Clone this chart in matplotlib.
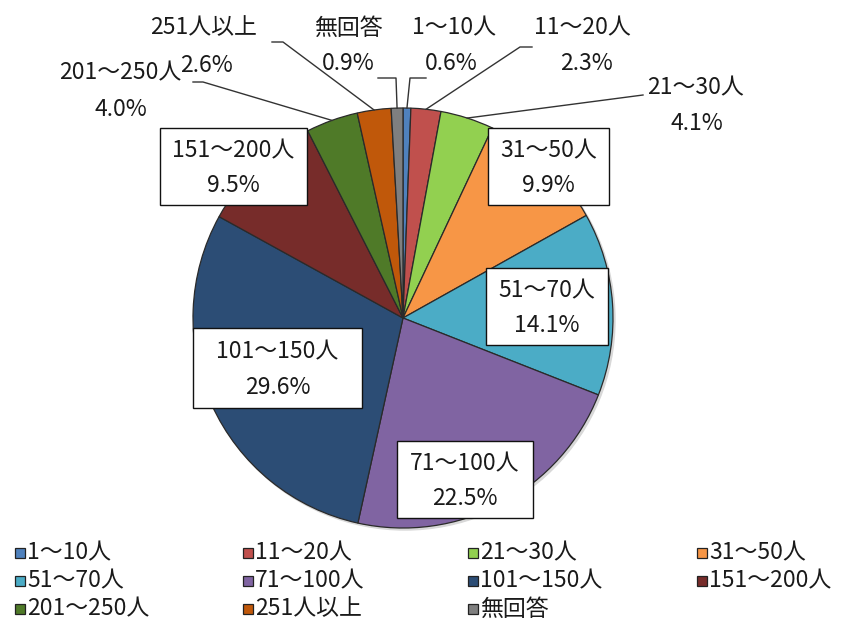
import matplotlib
matplotlib.use('Agg')
import matplotlib.pyplot as plt
from matplotlib.patches import Rectangle, Circle
import numpy as np

plt.rcParams['font.family'] = ['Noto Sans CJK JP', 'DejaVu Sans']

categories = ['1～10人', '11～20人', '21～30人', '31～50人', '51～70人', '71～100人',
              '101～150人', '151～200人', '201～250人', '251人以上', '無回答']
values = [0.6, 2.3, 4.1, 9.9, 14.1, 22.5, 29.6, 9.5, 4.0, 2.6, 0.9]
pct_labels = ['0.6%', '2.3%', '4.1%', '9.9%', '14.1%', '22.5%', '29.6%', '9.5%', '4.0%', '2.6%', '0.9%']
colors = ['#4F81BD', '#C0504D', '#92D050', '#F79646', '#4BACC6', '#8064A2',
          '#2C4D75', '#772C2A', '#4F7A28', '#C0580A', '#7F7F7F']

W, H = 848, 629
CX, CY, R = 403, 318, 210
FS = 16.5
TC = '#1a1a1a'

fig = plt.figure(figsize=(W / 100, H / 100), dpi=100)
ax = fig.add_axes([0, 0, 1, 1])

# subtle shadow
ax.add_patch(Circle((CX + 2, CY + 2), R, color='#d8d8d8', zorder=0))
ax.pie(values, colors=colors, startangle=-90, counterclock=True, center=(CX, CY), radius=R,
       wedgeprops=dict(edgecolor='#2a2a2a', linewidth=0.9), frame=True)
ax.set_xlim(0, W)
ax.set_ylim(H, 0)
ax.set_aspect('equal')
ax.axis('off')

total = sum(values)
cum = np.cumsum([0] + values)
mids = [(cum[i] + values[i] / 2) / total * 2 * np.pi for i in range(len(values))]

def rim(i):
    a = mids[i]
    return CX + R * np.sin(a), CY - R * np.cos(a)

# outside labels: (index, name pos, pct pos, leader points)
outside = [
    (0, (454, 28), (451, 63), [(410, 78), (426, 78)]),
    (1, (582, 28), (586, 63), [(520, 47), (532, 47)]),
    (2, (695, 88), (697, 123), [(643, 95)]),
    (8, (120, 73), (121, 110), [(203, 82), (193, 82)]),
    (9, (204, 28), (206, 65), [(283, 42), (272, 42)]),
    (10, (348, 28), (348, 63), [(396, 78), (378, 78)]),
]
for i, npos, ppos, pts in outside:
    x0, y0 = rim(i)
    xs = [x0] + [p[0] for p in pts]
    ys = [y0] + [p[1] for p in pts]
    ax.plot(xs, ys, color='#333333', lw=1.0, zorder=3)
    ax.text(*npos, categories[i], fontsize=FS, color=TC, ha='center', va='center', zorder=4)
    ax.text(*ppos, pct_labels[i], fontsize=FS, color=TC, ha='center', va='center', zorder=4)

# boxed labels: (index, x0, y0, x1, y1)
boxes = [
    (3, 488, 128, 609, 205),
    (4, 486, 268, 608, 345),
    (5, 397, 441, 533, 518),
    (6, 193, 328, 362, 408),
    (7, 160, 128, 307, 205),
]
for i, x0, y0, x1, y1 in boxes:
    ax.add_patch(Rectangle((x0, y0), x1 - x0, y1 - y0, facecolor='white', edgecolor='#111111',
                           lw=1.0, zorder=5))
    xc = (x0 + x1) / 2
    yc = (y0 + y1) / 2
    ax.text(xc, yc - 16, categories[i], fontsize=FS, color=TC, ha='center', va='center', zorder=6)
    ax.text(xc, yc + 19, pct_labels[i], fontsize=FS, color=TC, ha='center', va='center', zorder=6)

# legend
col_x = [15, 243, 468, 697]
row_y = [553, 581, 609]
for i, name in enumerate(categories):
    r, c = divmod(i, 4)
    x, y = col_x[c], row_y[r]
    ax.add_patch(Rectangle((x, y - 5), 10, 10, facecolor=colors[i], edgecolor='#222222', lw=0.9, zorder=5))
    ax.text(x + 12, y, name, fontsize=FS, color=TC, ha='left', va='center', zorder=6)

fig.savefig('out.png', dpi=100, facecolor='white')
